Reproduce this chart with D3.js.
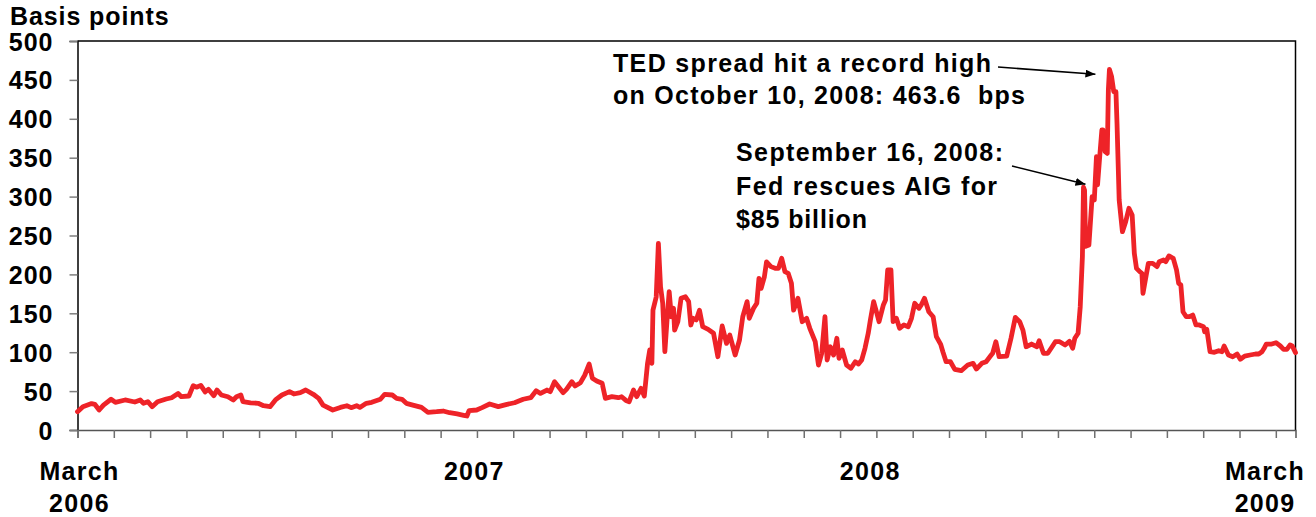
<!DOCTYPE html>
<html>
<head>
<meta charset="utf-8">
<script src="https://cdn.jsdelivr.net/npm/d3@7"></script>
<style>
  html, body { margin: 0; padding: 0; background: #fff; }
  svg { display: block; }
  text { font-family: "Liberation Sans", Arial, sans-serif; font-weight: bold; fill: #000; }
</style>
</head>
<body>
<svg id="chart" width="1316" height="517"></svg>
<script>
// TED spread (3-month LIBOR minus 3-month T-bill), basis points
const obsDates = [
  "2006-03-01","2006-03-06","2006-03-14","2006-03-17","2006-03-21","2006-03-25","2006-04-01","2006-04-05","2006-04-14","2006-04-23",
  "2006-04-28","2006-05-01","2006-05-05","2006-05-09","2006-05-14","2006-05-22","2006-05-27","2006-06-02","2006-06-05","2006-06-12",
  "2006-06-16","2006-06-19","2006-06-23","2006-06-27","2006-06-30","2006-07-05","2006-07-08","2006-07-12","2006-07-18","2006-07-23",
  "2006-07-26","2006-07-30","2006-08-01","2006-08-08","2006-08-15","2006-08-20","2006-08-26","2006-08-31","2006-09-06","2006-09-13",
  "2006-09-17","2006-09-23","2006-09-28","2006-10-05","2006-10-10","2006-10-14","2006-10-23","2006-10-30","2006-11-05","2006-11-09",
  "2006-11-14","2006-11-17","2006-11-23","2006-11-28","2006-12-06","2006-12-10","2006-12-17","2006-12-21","2006-12-26","2006-12-30",
  "2007-01-05","2007-01-13","2007-01-19","2007-01-27","2007-02-02","2007-02-08","2007-02-15","2007-02-21","2007-02-24","2007-02-26",
  "2007-03-05","2007-03-10","2007-03-17","2007-03-25","2007-04-02","2007-04-09","2007-04-17","2007-04-24","2007-04-29","2007-05-03",
  "2007-05-09","2007-05-12","2007-05-16","2007-05-24","2007-05-27","2007-06-01","2007-06-04","2007-06-09","2007-06-13","2007-06-17",
  "2007-06-20","2007-06-24","2007-06-29","2007-07-02","2007-07-08","2007-07-14","2007-07-17","2007-07-21","2007-07-24","2007-07-28",
  "2007-07-31","2007-08-04","2007-08-07","2007-08-10","2007-08-12","2007-08-14","2007-08-15","2007-08-18","2007-08-20","2007-08-22",
  "2007-08-24","2007-08-26","2007-08-28","2007-08-30","2007-09-01","2007-09-03","2007-09-04","2007-09-07","2007-09-10","2007-09-14",
  "2007-09-17","2007-09-19","2007-09-21","2007-09-24","2007-09-27","2007-09-30","2007-10-05","2007-10-10","2007-10-14","2007-10-18",
  "2007-10-22","2007-10-25","2007-10-30","2007-11-03","2007-11-06","2007-11-10","2007-11-12","2007-11-16","2007-11-19","2007-11-21",
  "2007-11-23","2007-11-26","2007-11-28","2007-12-02","2007-12-06","2007-12-09","2007-12-12","2007-12-15","2007-12-18","2007-12-21",
  "2007-12-23","2007-12-27","2007-12-31","2008-01-04","2008-01-07","2008-01-12","2008-01-15","2008-01-18","2008-01-21","2008-01-23",
  "2008-01-26","2008-01-29","2008-02-01","2008-02-03","2008-02-06","2008-02-10","2008-02-14","2008-02-18","2008-02-21","2008-02-24",
  "2008-02-27","2008-03-01","2008-03-03","2008-03-06","2008-03-09","2008-03-11","2008-03-15","2008-03-17","2008-03-19","2008-03-22",
  "2008-03-24","2008-03-27","2008-03-30","2008-04-03","2008-04-07","2008-04-10","2008-04-13","2008-04-17","2008-04-19","2008-04-22",
  "2008-04-26","2008-04-30","2008-05-03","2008-05-07","2008-05-09","2008-05-12","2008-05-16","2008-05-20","2008-05-26","2008-06-01",
  "2008-06-06","2008-06-09","2008-06-14","2008-06-18","2008-06-22","2008-06-24","2008-06-27","2008-06-30","2008-07-07","2008-07-11",
  "2008-07-15","2008-07-19","2008-07-22","2008-07-25","2008-07-30","2008-08-04","2008-08-06","2008-08-10","2008-08-14","2008-08-18",
  "2008-08-21","2008-08-25","2008-08-30","2008-09-03","2008-09-06","2008-09-08","2008-09-11","2008-09-13","2008-09-15","2008-09-16",
  "2008-09-17","2008-09-18","2008-09-21","2008-09-24","2008-09-26","2008-09-28","2008-09-29","2008-10-01","2008-10-03","2008-10-04",
  "2008-10-06","2008-10-08","2008-10-09","2008-10-10","2008-10-12","2008-10-14","2008-10-16","2008-10-17","2008-10-19","2008-10-22",
  "2008-10-25","2008-10-28","2008-10-31","2008-11-02","2008-11-04","2008-11-07","2008-11-09","2008-11-10","2008-11-13","2008-11-15",
  "2008-11-19","2008-11-23","2008-11-25","2008-11-29","2008-12-01","2008-12-04","2008-12-08","2008-12-11","2008-12-13","2008-12-15",
  "2008-12-17","2008-12-20","2008-12-23","2008-12-26","2008-12-29","2009-01-01","2009-01-05","2009-01-06","2009-01-08","2009-01-11",
  "2009-01-15","2009-01-19","2009-01-22","2009-01-24","2009-01-28","2009-02-01","2009-02-05","2009-02-08","2009-02-12","2009-02-17",
  "2009-02-22","2009-02-25","2009-02-28","2009-03-02","2009-03-04","2009-03-09","2009-03-13","2009-03-17","2009-03-20","2009-03-23",
  "2009-03-26","2009-03-28","2009-03-31"
];
const tedBps = [
  23.5,30,34,33,25.7,32,39.5,35.6,38.6,36,
  38.6,34.3,36.4,30,36.4,39.8,41.5,47,42.8,43.7,
  57,55,57.4,49,52.3,44,51.4,45,42.8,38.6,
  42.8,45,36.4,35,34.3,31.2,30,38.6,45,49.3,
  46.3,48,51.4,45.9,40.7,32,25.7,29,31.2,28.7,
  31.2,29,34.3,35.6,39.5,45.9,45,40.7,39.5,34.3,
  32,29,22.7,23.5,24.4,22.2,20.6,18.9,18,25,
  25.7,28.7,33.4,30,33,35,39.5,41.5,50.5,47,
  51.4,49.2,62,48,52.3,62,56.6,60.8,70.7,84.8,
  66.5,63,60,40.7,42.8,41.5,42.8,38,36.4,51.4,
  42.8,53.6,43.7,85.7,102.8,85.7,154,171,240,184,
  163,100.7,141.4,177.8,145.6,156.4,128.5,139.2,169.3,171.3,
  165,135,143.6,141.4,154,132.8,129.4,124.3,94.2,133.7,
  111.4,122,96.4,115.7,145.6,165,143.6,156.4,162.9,195,
  182,197,216,210,207.8,207.8,220.7,203.5,201.4,188.6,
  154,169.3,139.2,143.6,130.7,113.5,83.5,98.6,145.6,90,
  107,96.4,117.9,92.2,102.8,83.5,79.3,87.8,84.8,90,
  105,124.3,141.4,165,150,139.2,160.7,167,205.7,205.7,
  139.2,143.6,130.7,135,132.8,143.6,162.9,156.4,160.7,169.3,
  152,145.6,120,110,100.6,87.8,87.8,78,76.2,83.5,
  85.7,78.4,85.7,87.8,95,98.6,113.5,94.2,95,117.9,
  144.8,139.2,128.5,107,110.5,107,114.8,98.6,98.6,107,
  113.5,113.5,109.3,114,105,117.9,124.3,158.5,222.8,312,
  308,236,237.8,300,295.6,351.3,315,351.3,385.6,385.6,
  357.7,355.6,437,463.6,454,434.8,434.8,394,295.6,254.9,
  267.7,285,276.3,227,207.8,203.5,201.4,175.7,199.2,214.3,
  214.3,210,216.3,218.5,216.3,223.7,220.7,205.7,188.6,186.4,
  152,145.6,145.6,147.8,135,135,132.8,126.3,129.4,100.6,
  99.8,101.9,100.6,108,96.4,94.2,97.7,90.9,95,96.4,
  97.7,97.7,100.6,105,110.5,110.5,112.2,108,103.7,103.7,
  109.3,108,99.4
];

const yTicks = [0, 50, 100, 150, 200, 250, 300, 350, 400, 450, 500];
const xLabelDates = ["2006-03-01", "2007-03-01", "2008-03-01", "2009-03-01"];
const xLabelLines = [["March", "2006"], ["2007"], ["2008"], ["March", "2009"]];
const axisStart = "2006-03-01", axisEnd = "2009-03-31";
const minorTickCount = 34, minorTickDays = 33.57;

const peakNote = ["TED spread hit a record high", "on October 10, 2008: 463.6\u00a0 bps"];
const aigNote = ["September 16, 2008:", "Fed rescues AIG for", "$85 billion"];
const peakDate = "2008-10-10", aigDate = "2008-09-16";

const parse = d3.utcParse("%Y-%m-%d");
const series = obsDates.map((d, i) => ({ date: parse(d), v: tedBps[i] }));

const svg = d3.select("#chart");
const plotLeft = 77.5, plotRight = 1295.5, plotTop = 41, plotBottom = 430;

const x = d3.scaleUtc().domain([parse(axisStart), parse(axisEnd)]).range([plotLeft, plotRight]);
const y = d3.scaleLinear().domain([0, 500]).range([plotBottom, plotTop]);

// plot frame: top and right edges
svg.append("path")
  .attr("d", `M${plotLeft},${plotTop}H${plotRight}V${plotBottom}`)
  .attr("fill", "none").attr("stroke", "#000").attr("stroke-width", 1.5);

// y axis
const yAxis = svg.append("g").attr("transform", `translate(${plotLeft},0)`)
  .call(d3.axisLeft(y).tickValues(yTicks).tickSize(8).tickPadding(16).tickFormat(d3.format("d")));
yAxis.select(".domain").attr("stroke", "#000").attr("stroke-width", 1.5);
yAxis.selectAll(".tick line").attr("stroke", "#7f7f7f").attr("stroke-width", 1.5);
yAxis.selectAll(".tick text")
  .style("font-size", "25px").style("font-weight", "bold").style("letter-spacing", "1px")
  .style("font-family", "'Liberation Sans', Arial, sans-serif")
  .attr("fill", "#000").attr("dy", "0.36em");

// x axis with regular minor ticks
const t0 = parse(axisStart).getTime();
const xTickDates = d3.range(minorTickCount).map(i => new Date(t0 + i * minorTickDays * 864e5));
const xAxis = svg.append("g").attr("transform", `translate(0,${plotBottom})`)
  .call(d3.axisBottom(x).tickValues(xTickDates).tickSize(8).tickFormat(""));
xAxis.select(".domain").attr("stroke", "#555").attr("stroke-width", 1.5);
xAxis.selectAll(".tick line").attr("stroke", "#6f6f6f").attr("stroke-width", 1.5);

// year labels
xLabelDates.forEach((d, i) => {
  const cx = x(parse(d)) + 2;
  const t = svg.append("text")
    .attr("x", cx)
    .attr("y", 480)
    .attr("text-anchor", "middle")
    .style("font-size", "25px").style("letter-spacing", "1.3px");
  xLabelLines[i].forEach((line, j) => {
    t.append("tspan").attr("x", cx).attr("dy", j === 0 ? 0 : 31.5).text(line);
  });
});

// axis title
svg.append("text").attr("x", 10).attr("y", 25)
  .style("font-size", "25px").style("letter-spacing", "0.9px")
  .text("Basis points");

// spread line
svg.append("path")
  .datum(series)
  .attr("fill", "none")
  .attr("stroke", "#ee2328")
  .attr("stroke-width", 4.8)
  .attr("stroke-linejoin", "round")
  .attr("stroke-linecap", "round")
  .attr("d", d3.line().x(d => x(d.date)).y(d => y(d.v)));

// annotations
svg.append("defs").append("marker")
  .attr("id", "head").attr("viewBox", "0 0 10 8")
  .attr("refX", 10).attr("refY", 4)
  .attr("markerWidth", 10).attr("markerHeight", 8)
  .attr("markerUnits", "userSpaceOnUse")
  .attr("orient", "auto")
  .append("path").attr("d", "M0,0L10,4L0,8Z").attr("fill", "#000");

const noteWidths1 = [378, 412];
peakNote.forEach((line, i) => {
  svg.append("text").attr("x", 613).attr("y", 72 + i * 32)
    .attr("textLength", noteWidths1[i]).attr("lengthAdjust", "spacing")
    .style("font-size", "25px").text(line);
});
const noteWidths2 = [267, 261, 131];
aigNote.forEach((line, i) => {
  svg.append("text").attr("x", 736).attr("y", 161 + i * 33.5)
    .attr("textLength", noteWidths2[i]).attr("lengthAdjust", "spacing")
    .style("font-size", "25px").text(line);
});

const peak = series.find(d => +d.date === +parse(peakDate));
const aig = series.find(d => +d.date === +parse(aigDate));

svg.append("line")
  .attr("x1", 998).attr("y1", 67)
  .attr("x2", x(peak.date) - 14).attr("y2", y(peak.v) + 5)
  .attr("stroke", "#000").attr("stroke-width", 1.6)
  .attr("marker-end", "url(#head)");
svg.append("line")
  .attr("x1", 1012).attr("y1", 166)
  .attr("x2", x(aig.date) + 2).attr("y2", y(aig.v) - 3)
  .attr("stroke", "#000").attr("stroke-width", 1.6)
  .attr("marker-end", "url(#head)");
</script>
</body>
</html>
